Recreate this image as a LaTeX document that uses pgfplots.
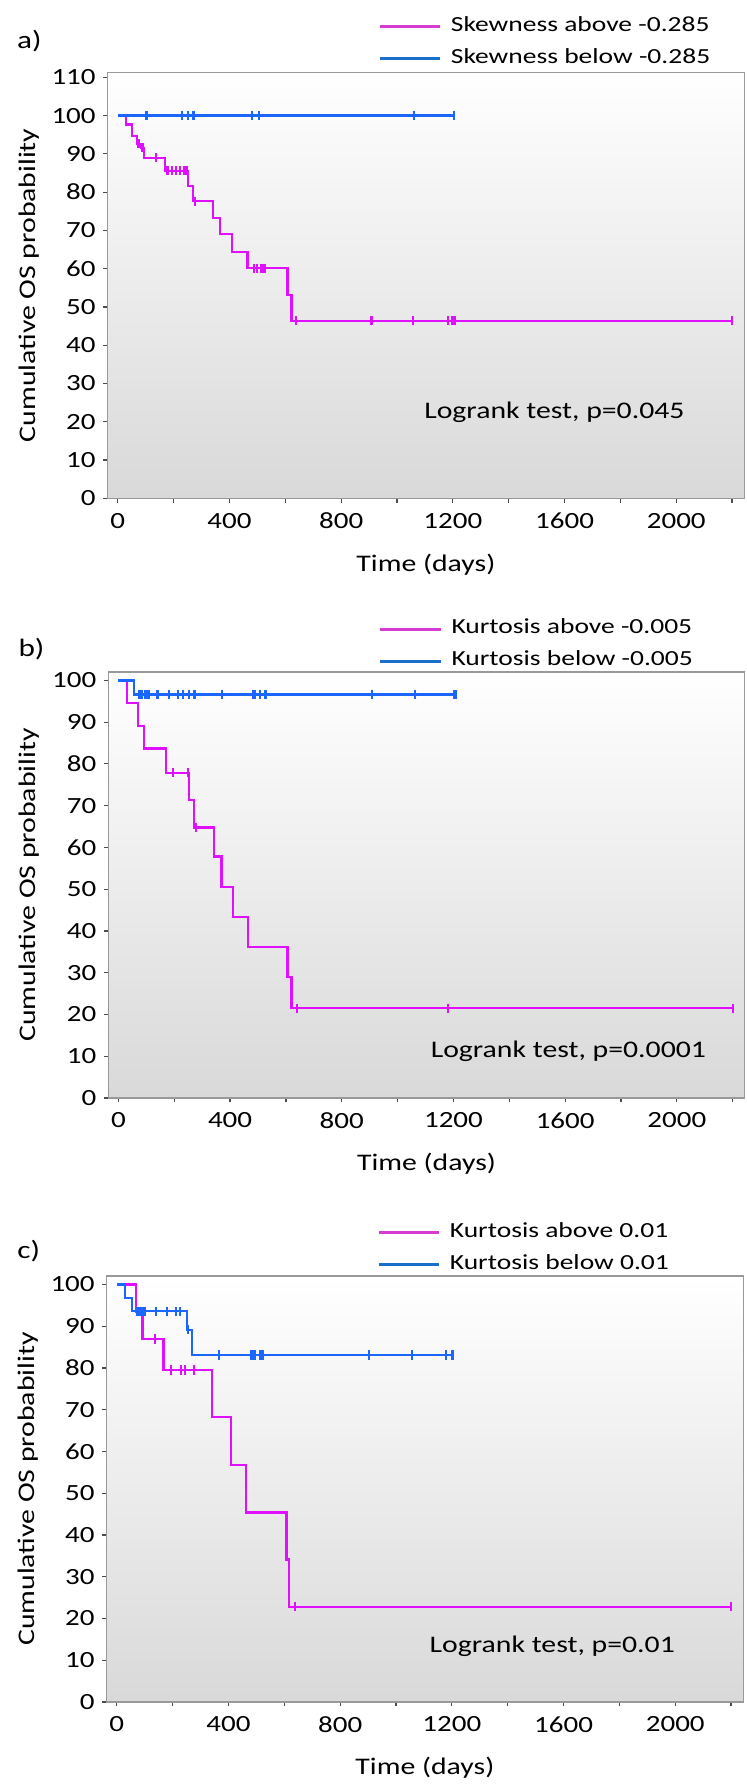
\documentclass[border=0pt]{standalone}
\usepackage{pgfplots}
\pgfplotsset{compat=1.18}
\usepackage{fontspec}
\setmainfont{Carlito}
\newcommand\tickfont{\fontsize{11.6}{13}\selectfont}
\newcommand\labfont{\fontsize{11.9}{14}\selectfont}
\newcommand\legfont{\fontsize{10.75}{12}\selectfont}
\definecolor{kmmag}{RGB}{224,16,255}
\definecolor{kmblue}{RGB}{26,102,255}
\definecolor{legmag}{RGB}{214,60,207}
\definecolor{legblue}{RGB}{26,111,204}
\tikzset{wide/.style={xscale=1.25}}
\pgfplotsset{
  kmaxis/.style={
    scale only axis, width=318.2pt, height=213pt,
    xmin=-36, xmax=2243, ymin=0, clip=false,
    axis line style={draw=black!40, line width=0.6pt},
    tick align=outside, tick pos=left,
    major tick length=2.2pt,
    every tick/.style={black!70, line width=0.6pt},
    xtick={0,200,...,2200},
    xticklabels={0,,400,,800,,1200,,1600,,2000,},
    /pgf/number format/assume math mode=true,
    yticklabel style={font=\tickfont, inner sep=0pt, anchor=east, xshift=-3.6pt, wide},
    xticklabel style={font=\tickfont, inner sep=0pt, anchor=north, yshift=-5pt, wide},
    xlabel={Time (days)}, ylabel={Cumulative OS probability},
    every axis x label/.style={at={(axis description cs:0.5,0)}, anchor=center, yshift=-33pt, font=\labfont, wide},
    every axis y label/.style={at={(axis description cs:0,0.5)}, anchor=center, xshift=-39.5pt, rotate=90, xscale=1.25, font=\labfont},
    axis background/.style={shade, top color=white, middle color=black!4, bottom color=black!15},
    legend cell align=left,
    legend style={draw=none, fill=none, inner sep=0pt, outer sep=0pt,
      at={(axis description cs:0,1)}, anchor=south west, xshift=135.3pt,
      row sep=9.1pt, font=\legfont,
      nodes={inner sep=0pt, text height=6.9pt, text depth=0pt, font=\legfont, xscale=1.28},
      /tikz/every odd column/.append style={column sep=4.5pt}},
    legend image code/.code={\draw[#1, line width=1.5pt] (0pt,-1.15pt) -- (30.3pt,-1.15pt);},
  },
  kmline/.style={const plot, line width=1.15pt, mark=none, forget plot},
  kmcens/.style={only marks, mark=|, mark size=2.3pt, mark options={line width=1.1pt}, forget plot},
}
\begin{document}
\begin{tikzpicture}
\useasboundingbox (0,0) rectangle (373.5pt,-892pt);
\node[anchor=west, inner sep=0pt, font=\fontsize{12.5}{14}\selectfont, wide] at (8.3pt,-20.5pt) {a)};
\node[anchor=west, inner sep=0pt, font=\fontsize{12.5}{14}\selectfont, wide] at (9pt,-324.5pt) {b)};
\node[anchor=west, inner sep=0pt, font=\fontsize{12.5}{14}\selectfont, wide] at (8.5pt,-625.3pt) {c)};

% ---------------- a) ----------------
\begin{axis}[kmaxis, at={(53.85pt,-36.15pt)}, anchor=north west,
  ymax=111.3, ytick={0,10,...,110}, legend style={yshift=4.5pt}]
\addlegendimage{legmag}\addlegendentry{Skewness above -0.285}
\addlegendimage{legblue}\addlegendentry{Skewness below -0.285}
\addplot[kmline, color=kmmag] coordinates {(0,100)(30,97.7)(52,94.6)(68,92.6)(82,91.6)(94,89.0)(168,85.6)(251,81.6)(270,77.6)(341,73.3)(367,69.0)(409,64.4)(465,60.1)(608,53.1)(622,46.4)(2200,46.4)};
\addplot[kmcens, color=kmmag] coordinates {(72,92.6)(77,92.6)(86,91.6)(90,91.6)(137,89.0)(178,85.6)(193,85.6)(209,85.6)(223,85.6)(239,85.6)(249,85.6)(277,77.6)(488,60.1)(500,60.1)(512,60.1)(521,60.1)(527,60.1)(639,46.4)(909,46.4)(1057,46.4)(1182,46.4)(1199,46.4)(1207,46.4)(2200,46.4)};
\addplot[kmline, color=kmblue] coordinates {(0,100)(1205,100)};
\addplot[kmcens, color=kmblue] coordinates {(100,100)(104,100)(229,100)(251,100)(271,100)(482,100)(506,100)(1061,100)(1203,100)(1205,100)};
\node[anchor=west, inner sep=0pt, font=\labfont, wide] at (axis cs:1096,22.6) {Logrank test, p=0.045};
\end{axis}

% ---------------- b) ----------------
\begin{axis}[kmaxis, at={(54.15pt,-336pt)}, anchor=north west,
  ymax=102, ytick={0,10,...,100}, legend style={yshift=3.2pt}]
\addlegendimage{legmag}\addlegendentry{Kurtosis above -0.005}
\addlegendimage{legblue}\addlegendentry{Kurtosis below -0.005}
\addplot[kmline, color=kmmag] coordinates {(0,100)(30,94.6)(70,89.1)(93,83.7)(170,77.9)(252,71.4)(271,64.8)(342,57.8)(369,50.6)(410,43.4)(465,36.2)(606,29.0)(620,21.5)(2200,21.5)};
\addplot[kmcens, color=kmmag] coordinates {(196,77.9)(249,77.9)(277,64.8)(640,21.5)(1181,21.5)(2200,21.5)};
\addplot[kmline, color=kmblue] coordinates {(0,100)(55,96.6)(1207,96.6)};
\addplot[kmcens, color=kmblue] coordinates {(74,96.6)(80,96.6)(85,96.6)(94,96.6)(103,96.6)(109,96.6)(140,96.6)(180,96.6)(214,96.6)(231,96.6)(253,96.6)(273,96.6)(371,96.6)(482,96.6)(488,96.6)(506,96.6)(524,96.6)(530,96.6)(909,96.6)(1061,96.6)(1203,96.6)(1207,96.6)};
\node[anchor=west, inner sep=0pt, font=\labfont, wide] at (axis cs:1117,11.3) {Logrank test, p=0.0001};
\end{axis}

% ---------------- c) ----------------
\begin{axis}[kmaxis, at={(53.35pt,-638pt)}, anchor=north west,
  ymax=102, ytick={0,10,...,100}, legend style={yshift=3.5pt}]
\addlegendimage{legmag}\addlegendentry{Kurtosis above 0.01}
\addlegendimage{legblue}\addlegendentry{Kurtosis below 0.01}
\addplot[kmline, color=kmmag] coordinates {(0,100)(68,93.5)(92,86.9)(167,79.5)(340,68.3)(408,56.8)(463,45.4)(608,34.1)(617,22.8)(2200,22.8)};
\addplot[kmcens, color=kmmag] coordinates {(137,86.9)(194,79.5)(229,79.5)(245,79.5)(278,79.5)(638,22.8)(2200,22.8)};
\addplot[kmline, color=kmblue] coordinates {(0,100)(30,96.8)(54,93.6)(251,89.1)(269,83.1)(1205,83.1)};
\addplot[kmcens, color=kmblue] coordinates {(74,93.6)(77,93.6)(83,93.6)(89,93.6)(95,93.6)(101,93.6)(140,93.6)(179,93.6)(212,93.6)(227,93.6)(256,89.1)(367,83.1)(481,83.1)(486,83.1)(490,83.1)(495,83.1)(513,83.1)(522,83.1)(904,83.1)(1058,83.1)(1179,83.1)(1200,83.1)(1205,83.1)};
\node[anchor=west, inner sep=0pt, font=\labfont, wide] at (axis cs:1119,13.4) {Logrank test, p=0.01};
\end{axis}
\end{tikzpicture}
\end{document}
